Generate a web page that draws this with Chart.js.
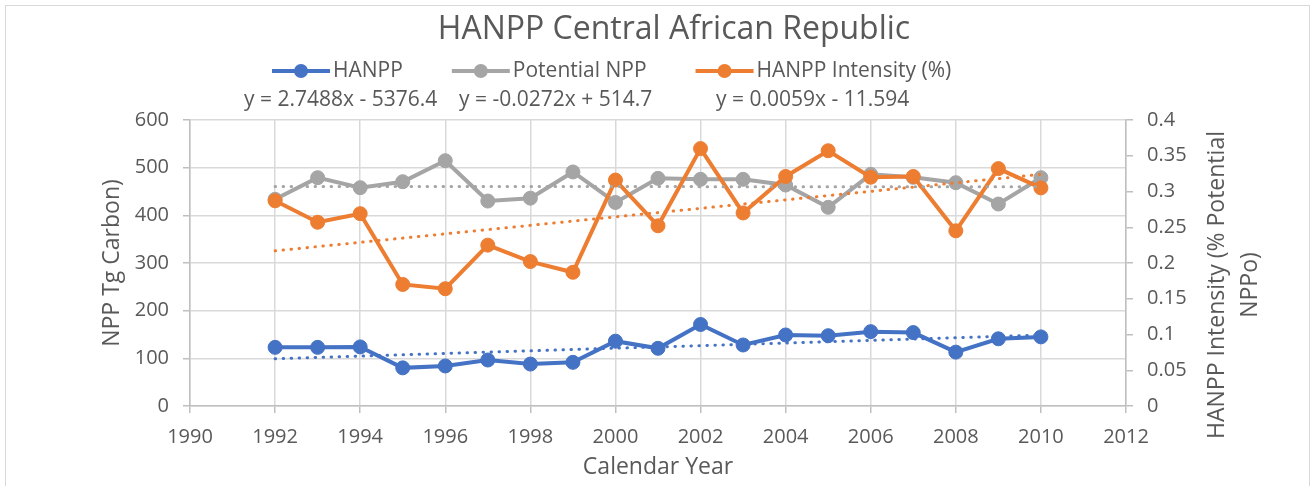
<!DOCTYPE html>
<html>
<head>
<meta charset="utf-8">
<title>HANPP Central African Republic</title>
<script src="https://cdn.jsdelivr.net/npm/chart.js@4.4.1/dist/chart.umd.min.js"></script>
<style>
  html, body { margin: 0; padding: 0; background: #fff; }
  canvas { display: block; }
</style>
</head>
<body>
<canvas id="chart1" width="1311" height="486"></canvas>
<script>
const chartTitle = 'HANPP Central African Republic';
const years = [1992, 1993, 1994, 1995, 1996, 1997, 1998, 1999, 2000, 2001, 2002, 2003, 2004, 2005, 2006, 2007, 2008, 2009, 2010];
const hanpp = [123, 123, 124, 80, 84, 96.5, 88, 91.6, 136, 121, 171, 128, 149, 147.5, 156, 154, 113, 141, 145];
const potentialNpp = [433.6, 479, 458, 470.5, 514.6, 430, 436, 491, 427, 477.6, 475.5, 475.5, 463.6, 416.8, 486, 479.7, 468.5, 423.7, 479];
const intensity = [0.287, 0.257, 0.269, 0.170, 0.164, 0.225, 0.202, 0.187, 0.316, 0.252, 0.360, 0.270, 0.321, 0.357, 0.320, 0.321, 0.245, 0.332, 0.305];

// linear trendlines, end points
const trendYears = [1992, 2010];
const hanppTrend = [99.2, 148.7];
const nppTrend = [460.5, 460.0];
const intensityTrend = [0.217, 0.324];
const trendLabels = ['y = 2.7488x - 5376.4', 'y = -0.0272x + 514.7', 'y = 0.0059x - 11.594'];

const xRange = [1990, 2012, 2];
const leftRange = [0, 600, 100];
const rightRange = [0, 0.4, 0.05];
const leftTitle = 'NPP Tg Carbon)';
const rightTitle = ['HANPP Intensity (% Potential', 'NPPo)'];
const xTitle = 'Calendar Year';

const TEXT = '#595959';
const GRID = '#D9D9D9';
const AXIS = '#BFBFBF';
const FONT = '"Open Sans", sans-serif';

Chart.defaults.font.family = FONT;
Chart.defaults.color = TEXT;

const pts = (xs, ys) => ys.map((y, i) => ({ x: xs[i], y }));

function series(label, color, data, axis, order) {
  return {
    label, data: pts(years, data), yAxisID: axis, order,
    borderColor: color, backgroundColor: color, borderWidth: 4,
    pointRadius: 7, pointBackgroundColor: color, pointBorderColor: color, pointBorderWidth: 1,
    tension: 0
  };
}

function trend(label, color, data, axis) {
  return {
    label, data: pts(trendYears, data), yAxisID: axis, order: 0,
    borderColor: color, borderWidth: 3, borderDash: [0.5, 7.5], borderCapStyle: 'round',
    pointRadius: 0, tension: 0
  };
}

const headerPlugin = {
  id: 'header',
  beforeDraw(chart) {
    const ctx = chart.ctx;
    ctx.save();
    ctx.fillStyle = '#fff';
    ctx.fillRect(0, 0, chart.width, chart.height);
    ctx.strokeStyle = GRID;
    ctx.lineWidth = 1;
    ctx.strokeRect(5.5, 5.5, 1304, 500);
    ctx.restore();
  },
  afterDraw(chart) {
    const ctx = chart.ctx;
    ctx.save();
    ctx.fillStyle = TEXT;
    ctx.textBaseline = 'middle';
    ctx.textAlign = 'center';
    ctx.font = '32px ' + FONT;
    ctx.fillText(chartTitle, 674, 30);

    // legend row
    ctx.font = '21px ' + FONT;
    ctx.textAlign = 'left';
    let x = 272;
    const ly = 71;
    chart.data.datasets.slice(0, 3).forEach((ds) => {
      ctx.strokeStyle = ds.borderColor;
      ctx.lineWidth = 4;
      ctx.beginPath();
      ctx.moveTo(x, ly);
      ctx.lineTo(x + 58, ly);
      ctx.stroke();
      ctx.fillStyle = ds.borderColor;
      ctx.beginPath();
      ctx.arc(x + 29, ly, 7, 0, Math.PI * 2);
      ctx.fill();
      ctx.fillStyle = TEXT;
      ctx.fillText(ds.label, x + 61, ly);
      x += 61 + ctx.measureText(ds.label).width + 49;
    });

    // trendline equations
    const eqX = [244, 459, 716];
    trendLabels.forEach((t, i) => ctx.fillText(t, eqX[i], 100));

    // right axis title, reads bottom to top like Excel
    ctx.font = '23px ' + FONT;
    ctx.textAlign = 'center';
    [1217, 1250].forEach((cx, i) => {
      ctx.save();
      ctx.translate(cx, 285);
      ctx.rotate(-Math.PI / 2);
      ctx.fillText(rightTitle[i], 0, 0);
      ctx.restore();
    });
    ctx.restore();
  }
};

new Chart(document.getElementById('chart1'), {
  type: 'line',
  data: {
    datasets: [
      series('HANPP', '#4472C4', hanpp, 'y', 3),
      series('Potential NPP', '#A5A5A5', potentialNpp, 'y', 2),
      series('HANPP Intensity (%)', '#ED7D31', intensity, 'y1', 1),
      trend('Linear (HANPP)', '#4472C4', hanppTrend, 'y'),
      trend('Linear (Potential NPP)', '#A5A5A5', nppTrend, 'y'),
      trend('Linear (HANPP Intensity (%))', '#ED7D31', intensityTrend, 'y1')
    ]
  },
  options: {
    responsive: false,
    animation: false,
    layout: { padding: { top: 120, left: 0, right: 0, bottom: 0 } },
    plugins: { legend: { display: false }, title: { display: false }, tooltip: { enabled: false } },
    scales: {
      x: {
        type: 'linear', min: xRange[0], max: xRange[1],
        afterFit: (s) => { s.height = 80; },
        grid: { color: GRID, lineWidth: 1.5, tickLength: 7, tickColor: AXIS },
        border: { color: AXIS, width: 1.5 },
        ticks: { stepSize: xRange[2], padding: 12, color: TEXT, font: { size: 20 }, callback: (v) => String(v) },
        title: { display: true, text: xTitle, color: TEXT, font: { size: 23 }, padding: { top: 0, bottom: 5 } }
      },
      y: {
        position: 'left', min: leftRange[0], max: leftRange[1],
        afterFit: (s) => { s.width = 190; },
        grid: { color: GRID, lineWidth: 1.5, tickLength: 7, tickColor: AXIS },
        border: { color: AXIS, width: 1.5 },
        ticks: { stepSize: leftRange[2], padding: 14, color: TEXT, font: { size: 20 } },
        title: { display: true, text: leftTitle, color: TEXT, font: { size: 23 }, padding: { top: 99, bottom: 0 } }
      },
      y1: {
        position: 'right', min: rightRange[0], max: rightRange[1],
        afterFit: (s) => { s.width = 185; },
        grid: { drawOnChartArea: false, lineWidth: 1.5, tickLength: 7, tickColor: AXIS },
        border: { color: AXIS, width: 1.5 },
        ticks: { stepSize: rightRange[2], padding: 14, color: TEXT, font: { size: 20 }, callback: (v) => String(+v.toFixed(2)) }
      }
    }
  },
  plugins: [headerPlugin]
});
</script>
</body>
</html>
